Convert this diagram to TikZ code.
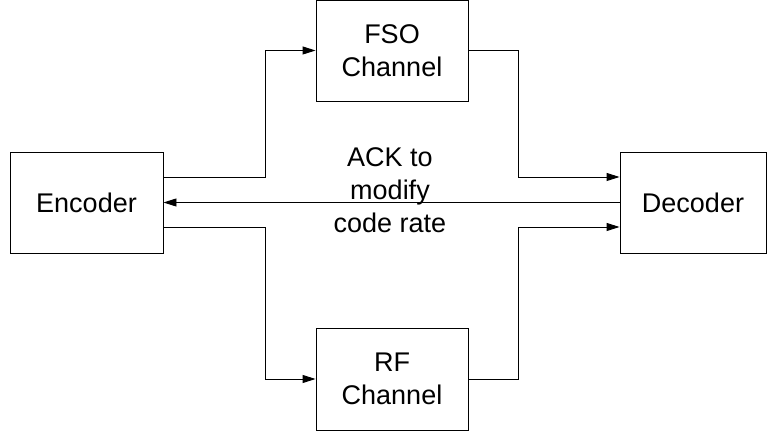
\documentclass[tikz,border=0pt]{standalone}
\usepackage{fontspec}
\setmainfont{Liberation Sans}
\usetikzlibrary{arrows.meta}

\begin{document}
\begin{tikzpicture}[x=1pt, y=1pt,
    block/.style={draw, line width=0.9pt, minimum width=152pt, minimum height=101pt, align=center,
        font=\fontsize{27}{33}\selectfont},
    link/.style={line width=0.9pt, -{Triangle[length=13pt, width=8pt]}}]
    \useasboundingbox (0, 0) rectangle (769, 433);
    \node[block, minimum width=153pt] (enc) at (86.5, 230.5) {Encoder};
    \node[block] (fso) at (392, 382.5) {FSO\\Channel};
    \node[block, minimum height=102pt] (rf) at (392, 54) {RF\\Channel};
    \node[block, minimum width=146pt] (dec) at (693, 230.5) {Decoder};
    \node[align=center, font=\fontsize{27}{33}\selectfont] (ack) at (390, 243) {ACK to\\modify\\code rate};
    \coordinate (up) at (265, 256);
    \coordinate (down) at (265, 206);
    \coordinate (upr) at (518, 382.5);
    \coordinate (downr) at (518, 54);
    % forward paths
    \draw[link] (enc.east |- up) -- (up) |- (fso.west);
    \draw[link] (enc.east |- down) -- (down) |- (rf.west);
    \draw[link] (fso.east) -- (upr) |- (dec.west |- up);
    \draw[link] (rf.east) -- (downr) |- (dec.west |- down);
    % feedback
    \draw[link] (dec.west) -- (enc.east);
\end{tikzpicture}
\end{document}
